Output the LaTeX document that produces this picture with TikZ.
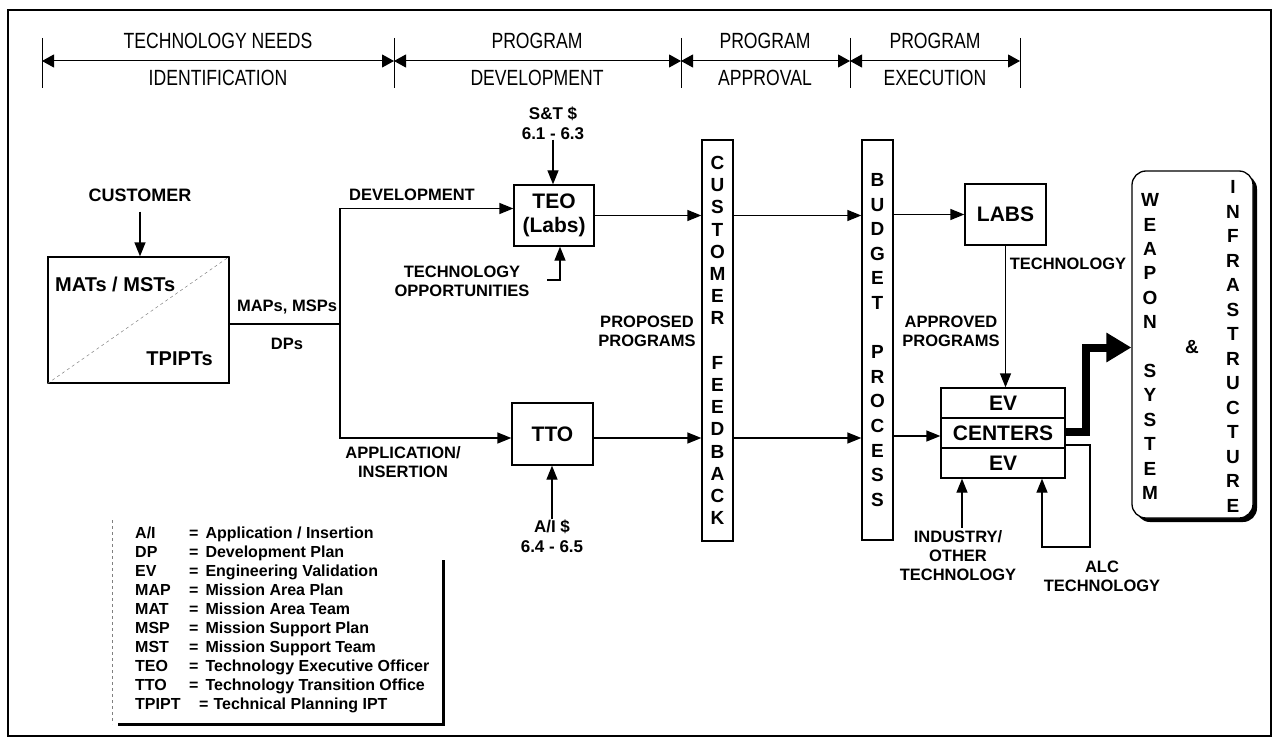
\documentclass[tikz,border=0pt]{standalone}
\usepackage{fontspec}
\setmainfont{Liberation Sans}
\usetikzlibrary{arrows.meta,calc}
\newcommand{\hdrs}[1]{\scalebox{0.8}[1]{#1}}
\begin{document}
\begin{tikzpicture}[x=1pt,y=-1pt,
  lbl/.style={font=\bfseries\fontsize{16.5}{19}\selectfont, align=center, inner sep=0pt},
  box/.style={draw, line width=1.3pt, inner sep=0pt},
  arr/.style={line width=1.3pt, -{Triangle[length=14pt,width=11pt]}},
  hdrarr/.style={line width=1pt, {Triangle[length=12pt,width=13pt]}-{Triangle[length=12pt,width=13pt]}},
  tick/.style={line width=0.8pt},
  hdr/.style={font=\fontsize{22}{24}\selectfont, inner sep=0pt},
  vtext/.style={font=\bfseries\fontsize{19}{#1}\selectfont, align=center, inner sep=0pt},
  boxtxt/.style={font=\bfseries\fontsize{21}{24}\selectfont, align=center},
  legend/.style={font=\bfseries\fontsize{16}{18}\selectfont, anchor=base west, inner sep=0pt},
]
\useasboundingbox (0,0) rectangle (1274,738);
% outer frame
\draw[line width=1.2pt] (8,10) rectangle (1271,736);
\draw[line width=2pt] (8,10) -- (1271,10);

% header
\coordinate (t1) at (42,61);
\coordinate (t2) at (394,61);
\coordinate (t3) at (681,61);
\coordinate (t4) at (850,61);
\coordinate (t5) at (1020,61);
\foreach \t in {t1,t2,t3,t4,t5}
  \draw[tick] ([yshift=23pt]\t) -- ([yshift=-27pt]\t);
\draw[hdrarr] (t1) -- (t2);
\draw[hdrarr] (t2) -- (t3);
\draw[hdrarr] (t3) -- (t4);
\draw[hdrarr] (t4) -- (t5);
\node[hdr] (h1a) at (218,41) {\hdrs{TECHNOLOGY NEEDS}};
\node[hdr] (h1b) at (218,78) {\hdrs{IDENTIFICATION}};
\node[hdr] (h2a) at (537,41) {\hdrs{PROGRAM}};
\node[hdr] (h2b) at (537,78) {\hdrs{DEVELOPMENT}};
\node[hdr] (h3a) at (765,41) {\hdrs{PROGRAM}};
\node[hdr] (h3b) at (765,78) {\hdrs{APPROVAL}};
\node[hdr] (h4a) at (935,41) {\hdrs{PROGRAM}};
\node[hdr] (h4b) at (935,78) {\hdrs{EXECUTION}};

% customer and MAT box
\node[lbl, font=\bfseries\fontsize{18}{21}\selectfont] (cust) at (140,195) {CUSTOMER};
\node[box, minimum width=181pt, minimum height=126pt] (mat) at (138.5,320) {};
\draw[gray, dashed, line width=0.5pt] (mat.south west) -- (mat.north east);
\node[font=\bfseries\fontsize{20}{24}\selectfont, anchor=west, inner sep=0pt] (matt) at (55,284) {MATs / MSTs};
\node[font=\bfseries\fontsize{20}{24}\selectfont, anchor=east, inner sep=0pt] (tpi) at (213,359) {TPIPTs};
\draw[arr, shorten <=10pt] (cust.south) -- (cust.south |- mat.north);

\coordinate (split) at (340,324);
\draw[line width=1.3pt] (mat.east |- split) -- (split);
\node[lbl] (maps) at (287,307) {MAPs, MSPs};
\node[lbl] (dps) at (287,344) {DPs};

% TEO and TTO
\node[box, boxtxt, minimum width=80pt, minimum height=61pt] (teo) at (554,215.5) {TEO\\(Labs)};
\node[box, boxtxt, minimum width=81pt, minimum height=62pt] (tto) at (552.5,434) {TTO};
\draw[arr] (split) |- ([yshift=7pt]teo.west);
\draw[arr] (split) |- ([yshift=-4pt]tto.west);
\node[lbl] (dev) at (412,195) {DEVELOPMENT};
\node[lbl] (appl) at (403,462) {APPLICATION/\\INSERTION};
\node[lbl, font=\bfseries\fontsize{17}{20}\selectfont] (st) at (553,123) {S\&T \$\\6.1 - 6.3};
\draw[arr] (st.south) -- (st.south |- teo.north);
\node[lbl] (topp) at (462,281) {TECHNOLOGY\\OPPORTUNITIES};
\coordinate (toppin) at (547,280);
\draw[arr] (toppin) -| ([xshift=6pt]teo.south);
\node[lbl, font=\bfseries\fontsize{17}{20}\selectfont] (ai) at (552,536) {A/I \$\\6.4 - 6.5};
\draw[arr] (ai.north) -- (ai.north |- tto.south);

% customer feedback
\node[box, vtext=22.2, minimum width=31pt, minimum height=401pt] (cf) at (717.5,340.5)
  {C\\U\\S\\T\\O\\M\\E\\R\\\mbox{}\\F\\E\\E\\D\\B\\A\\C\\K};
\draw[arr] (teo.east) -- (cf.west |- teo.east);
\path ([yshift=-4pt]tto.east) coordinate (ttoout);
\draw[arr] (ttoout) -- (cf.west |- ttoout);
\node[lbl] (prop) at (647,331) {PROPOSED\\PROGRAMS};

% budget process
\node[box, vtext=24.6, minimum width=31pt, minimum height=400pt] (bp) at (877.5,340)
  {B\\U\\D\\G\\E\\T\\\mbox{}\\P\\R\\O\\C\\E\\S\\S};
\draw[arr] (cf.east |- teo.east) -- (bp.west |- teo.east);
\draw[arr] (cf.east |- ttoout) -- (bp.west |- ttoout);

% labs and EV centers
\node[box, boxtxt, font=\bfseries\fontsize{21}{24}\selectfont, minimum width=81pt, minimum height=61pt] (labs) at (1005.5,214.5) {LABS};
\node[box, boxtxt, font=\bfseries\fontsize{21}{24}\selectfont, minimum width=124pt, minimum height=30pt] (evtop) at (1003,403) {EV};
\node[box, boxtxt, font=\bfseries\fontsize{21}{24}\selectfont, minimum width=124pt, minimum height=30pt] (evc) at (1003,433) {CENTERS};
\node[box, boxtxt, font=\bfseries\fontsize{21}{24}\selectfont, minimum width=124pt, minimum height=30pt] (evbot) at (1003,463) {EV};
\draw[arr] (bp.east |- labs.west) -- (labs.west);
\path ([yshift=-3pt]evc.west) coordinate (evin);
\draw[arr] (bp.east |- evin) -- (evin);
\draw[arr] (labs.south) -- (labs.south |- evtop.north);
\node[lbl] (tech) at (1068,264) {TECHNOLOGY};
\node[lbl] (appr) at (951,331) {APPROVED\\PROGRAMS};
\node[lbl] (ind) at (958,556) {INDUSTRY/\\OTHER\\TECHNOLOGY};
\draw[arr] ([xshift=4pt,yshift=3pt]ind.north) -- ([xshift=4pt]ind.north |- evbot.south);
\node[lbl] (alc) at (1102,576) {ALC\\TECHNOLOGY};
\coordinate (alcR) at (1090,547);
\coordinate (alcL) at (1042,547);
\draw[arr] ([yshift=-12pt]evc.east) -| (alcR) -- (alcL) -- (alcL |- evbot.south);

% weapon system & infrastructure
\node[fill=black, rounded corners=14pt, minimum width=121pt, minimum height=347pt, inner sep=0pt] (wssh) at (1196.5,348.5) {};
\node[box, fill=white, rounded corners=14pt, minimum width=121pt, minimum height=347pt] (ws) at (1192.5,344.5) {};
\node[vtext=24.4] (wsa) at (1150,346.5) {W\\E\\A\\P\\O\\N\\\mbox{}\\S\\Y\\S\\T\\E\\M};
\node[vtext=24.5] (wsb) at (1233,346.5) {I\\N\\F\\R\\A\\S\\T\\R\\U\\C\\T\\U\\R\\E};
\node[font=\bfseries\fontsize{19}{22}\selectfont, inner sep=0pt] (amp) at (1192,347) {\&};
\draw[line width=8pt, -{Triangle[length=25pt,width=28pt]}] ([yshift=1pt]evc.east) -- ++(20,0) |- ([yshift=-3pt]ws.west);

% legend
\draw[gray, dashed, line width=0.6pt] (112,520) -- (112,724);
\draw[line width=3pt] (118,724) -- (443,724) -- (443,560);
\foreach \ab/\df [count=\i] in {{A/I}/{Application / Insertion}, DP/{Development Plan}, EV/{Engineering Validation}, MAP/{Mission Area Plan}, MAT/{Mission Area Team}, MSP/{Mission Support Plan}, MST/{Mission Support Team}, TEO/{Technology Executive Officer}, TTO/{Technology Transition Office}} {
  \node[legend] (lga\i) at (135,{538+19*(\i-1)}) {\ab};
  \node[legend] (lgd\i) at (189,{538+19*(\i-1)}) {=\hspace{7pt}\df};
}
\node[legend] (lga10) at (135,709) {TPIPT};
\node[legend] (lgd10) at (199,709) {=\hspace{5pt}Technical Planning IPT};
\end{tikzpicture}
\end{document}
